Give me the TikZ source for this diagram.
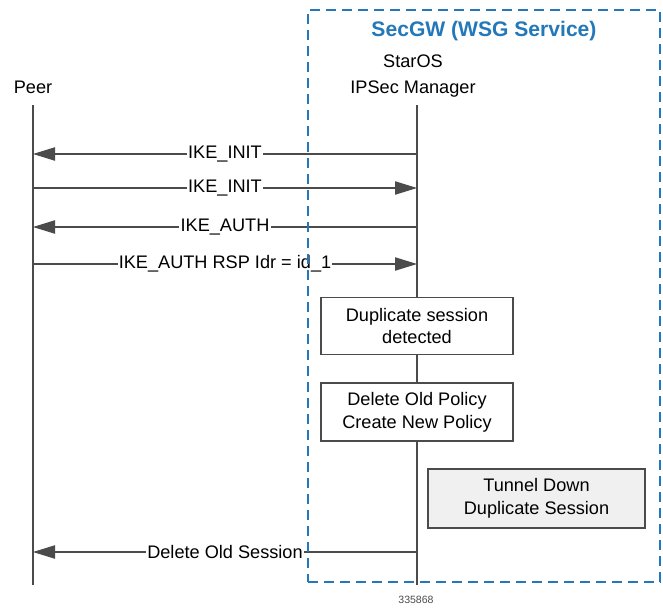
\documentclass[tikz,border=0pt]{standalone}
\usepackage{fontspec}
\setmainfont{Liberation Sans}
\usetikzlibrary{arrows.meta,positioning}
\definecolor{secblue}{RGB}{35,120,185}
\definecolor{linegray}{RGB}{75,75,75}
\definecolor{boxgray}{RGB}{240,240,240}
\begin{document}
\begin{tikzpicture}[x=0.03cm, y=-0.03cm, font=\fontsize{15.5}{19.5}\selectfont]
    \tikzstyle{actor} = [text centered, align=center, inner sep=0pt, font=\fontsize{15.5}{22}\selectfont]
    \tikzstyle{event} = [rectangle, draw=linegray, fill=white, line width=0.9pt, minimum width=5.76cm, minimum height=1.7cm, align=center]
    \tikzstyle{msg} = [draw=linegray, line width=0.9pt, -{Triangle[length=0.66cm,width=0.4cm]}]
    \tikzstyle{msglabel} = [fill=white, inner sep=1pt]
    \tikzstyle{lifeline} = [draw=linegray, line width=0.9pt]

    \useasboundingbox (0,0) rectangle (663,609);

    % Participants
    \node [actor] (peer) at (33,87) {Peer};
    \node [actor] (mgr) at (413,76) {StarOS\\IPSec Manager};

    % Lifelines
    \coordinate (peertop) at (33,105);
    \coordinate (peerbot) at (33,585);
    \coordinate (mgrtop) at (417,105);
    \coordinate (mgrbot) at (417,585);
    \draw [lifeline] (peertop) -- (peerbot);
    \draw [lifeline] (mgrtop) -- (mgrbot);

    % Message end points
    \foreach \n/\y in {1/154, 2/188, 3/227, 4/264, 5/552} {
        \coordinate (p\n) at (33,\y);
        \coordinate (m\n) at (417,\y);
    }

    % Messages
    \draw [msg] (m1) -- node [msglabel] {IKE\_INIT} (p1);
    \draw [msg] (p2) -- node [msglabel] {IKE\_INIT} (m2);
    \draw [msg] (m3) -- node [msglabel] {IKE\_AUTH} (p3);
    \draw [msg] (p4) -- node [msglabel] {IKE\_AUTH RSP Idr = id\_1} (m4);
    \draw [msg] (m5) -- node [msglabel] {Delete Old Session} (p5);

    % Events on the manager
    \node [event] (duplicate) at (417,326) {Duplicate session\\detected};
    \node [event, minimum height=1.74cm] (policy) at (417,412) {Delete Old Policy\\Create New Policy};
    \node [event, fill=boxgray, minimum width=6.51cm, minimum height=1.77cm] (tunnel) at (536.5,498.5) {Tunnel Down\\Duplicate Session};

    % SecGW boundary
    \node [draw=secblue, dash pattern=on 0.3cm off 0.18cm, line width=0.9pt, minimum width=10.56cm, minimum height=17.16cm, inner sep=0pt] (secgw) at (484,296) {};
    \node [text=secblue, font=\fontsize{18}{20}\selectfont\bfseries] (secgwtitle) at (484,31) {SecGW (WSG Service)};

    % Figure number
    \node [font=\fontsize{9}{10}\selectfont, text=linegray] (fignum) at (416,600) {335868};
\end{tikzpicture}
\end{document}
